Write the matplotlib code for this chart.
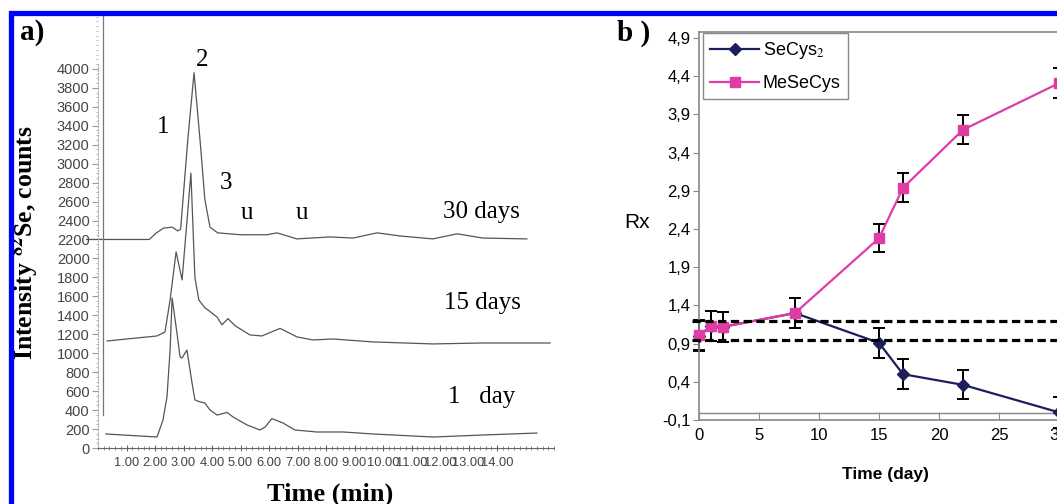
import numpy as np
import matplotlib
matplotlib.use('Agg')
import matplotlib.pyplot as plt
from matplotlib.patches import Rectangle
from matplotlib.ticker import MultipleLocator, FixedLocator

#%% fonts
plt.rcParams['mathtext.fontset'] = 'stix'
serif = ['Liberation Serif', 'DejaVu Serif']
sans = ['Liberation Sans', 'DejaVu Sans']

#%% Data panel a) - chromatograms (time in min, intensity in counts)
t30 = [-0.4, 1.8, 2.05, 2.3, 2.6, 2.8, 2.9, 3.15, 3.37, 3.58, 3.75, 3.93, 4.2,
       5.0, 5.93, 6.28, 6.98, 8.14, 8.95, 9.79, 10.6, 11.75, 12.6, 13.5, 15.05]
i30 = [2200, 2200, 2270, 2320, 2330, 2290, 2310, 3250, 3960, 3250, 2620, 2330, 2270,
       2250, 2250, 2270, 2206, 2227, 2215, 2270, 2237, 2206, 2260, 2215, 2206]

t15 = [0.32, 1.0, 2.07, 2.35, 2.53, 2.74, 2.95, 3.26, 3.40, 3.54, 3.75, 3.93, 4.18,
       4.35, 4.56, 4.81, 5.33, 5.75, 6.39, 6.98, 7.54, 8.25, 9.65, 11.75, 13.5, 15.86]
i15 = [1129, 1150, 1182, 1224, 1562, 2069, 1773, 2900, 1800, 1560, 1480, 1440, 1380,
       1300, 1365, 1290, 1193, 1182, 1262, 1172, 1140, 1150, 1119, 1098, 1108, 1108]

t1 = [0.28, 1.0, 2.07, 2.28, 2.42, 2.53, 2.60, 2.77, 2.88, 2.95, 3.12, 3.30, 3.40,
      3.58, 3.75, 3.93, 4.18, 4.53, 4.74, 5.23, 5.68, 5.86, 6.1, 6.49, 6.91, 7.68,
      8.6, 9.65, 11.75, 13.5, 15.4]
i1 = [148, 135, 116, 296, 538, 1034, 1583, 1214, 960, 950, 1034, 686, 507,
      486, 475, 401, 348, 375, 327, 243, 190, 220, 310, 264, 190, 169,
      169, 148, 116, 137, 158]

a_yticks = list(range(0, 4001, 200))
a_xticks = [1, 2, 3, 4, 5, 6, 7, 8, 9, 10, 11, 12, 13, 14]

#%% Data panel b) - Rx vs time
days = [0, 1, 2, 8, 15, 17, 22, 30]
secys = [1.0, 1.13, 1.12, 1.30, 0.91, 0.50, 0.36, 0.0]
secys_err = [0.2, 0.2, 0.2, 0.2, 0.2, 0.2, 0.19, 0.2]
mesecys = [1.01, 1.13, 1.12, 1.30, 2.28, 2.94, 3.70, 4.31]
mesecys_err = [0.2, 0.2, 0.2, 0.2, 0.18, 0.19, 0.19, 0.2]
ref_levels = [1.2, 0.95]
b_yticks = [-0.1, 0.4, 0.9, 1.4, 1.9, 2.4, 2.9, 3.4, 3.9, 4.4, 4.9]
b_xticks = [0, 5, 10, 15, 20, 25, 30]

#%% figure
W, H = 1057, 504
fig = plt.figure(figsize=(W/100., H/100.), dpi=100)
fig.patch.set_facecolor('white')

# blue frame (top and left edges visible)
fig.patches.append(Rectangle((10.5/W, -0.05), 1.1, (H-12.5)/H + 0.05,
                             transform=fig.transFigure, fill=False,
                             edgecolor='#0000FF', lw=3.8, zorder=10))

#%% panel a)
ax1 = fig.add_axes([98./W, (H-448.)/H, (554.-98.)/W, (448.-12.)/H])
trace_col = '#555555'
for tt, ii in [(t30, i30), (t15, i15), (t1, i1)]:
    ax1.plot(tt, ii, color=trace_col, lw=0.9, clip_on=False)
# vertical line of the original recording
ax1.axvline(0.18, ymin=348/4600., ymax=0.99, color='#777777', lw=0.9)

ax1.set_xlim(0, 16)
ax1.set_ylim(0, 4600)
for s in ['top', 'right']:
    ax1.spines[s].set_visible(False)
ax1.spines['left'].set_bounds(0, 4050)
ax1.spines['left'].set_color('#aaaaaa')
ax1.spines['left'].set_linestyle(':')
ax1.spines['bottom'].set_bounds(0, 16)
ax1.spines['bottom'].set_color('#666666')
ax1.spines['bottom'].set_linewidth(0.8)
ax1.yaxis.set_major_locator(FixedLocator(a_yticks))
ax1.set_yticklabels([str(v) for v in a_yticks], family=sans, fontsize=10.5, color='#444444')
ax1.yaxis.set_minor_locator(MultipleLocator(50))
ax1.xaxis.set_major_locator(FixedLocator(a_xticks))
ax1.set_xticklabels(['%.2f' % v for v in a_xticks], family=sans, fontsize=9.3, color='#444444')
ax1.xaxis.set_minor_locator(MultipleLocator(0.2))
ax1.tick_params(axis='y', which='major', length=4, color='#999999', pad=2)
ax1.tick_params(axis='y', which='minor', length=1.5, color='#aaaaaa')
ax1.tick_params(axis='x', which='major', direction='inout', length=5, color='#666666', pad=4)
ax1.tick_params(axis='x', which='minor', direction='inout', length=3, color='#777777')
ax1.set_facecolor('none')

# peak labels
for txt, xx, yy in [('1', 2.28, 3388), ('2', 3.65, 4095), ('3', 4.49, 2797),
                    ('u', 5.23, 2480), ('u', 7.16, 2480)]:
    ax1.text(xx, yy, txt, family=serif, fontsize=18, ha='center', va='center')
for txt, xx, yy in [('30 days', 13.47, 2490), ('15 days', 13.5, 1530), ('1   day', 13.47, 538)]:
    ax1.text(xx, yy, txt, family=serif, fontsize=18, ha='center', va='center')

fig.text(25./W, 1 - 243./H, r'Intensity $^{\mathbf{82}}$Se, counts', family=serif,
         fontweight='bold', fontsize=18.5, rotation=90, ha='center', va='center')
fig.text(330./W, 1 - 501./H, 'Time (min)', family=serif, fontweight='bold',
         fontsize=19, ha='center', va='baseline')
fig.text(20./W, 1 - 40./H, 'a)', family=serif, fontweight='bold', fontsize=21,
         ha='left', va='baseline')
fig.text(617./W, 1 - 41./H, 'b )', family=serif, fontweight='bold', fontsize=21,
         ha='left', va='baseline')

#%% panel b)
bx0, bx1 = 699., 1065.
by0, by1 = 420., 32.
ax2 = fig.add_axes([bx0/W, (H-by0)/H, (bx1-bx0)/W, (by0-by1)/H])
navy = '#1c1f5c'
pink = '#e03ca6'
# error bars (black) drawn separately from the lines
ax2.errorbar(days, secys, yerr=secys_err, fmt='none', ecolor='black', elinewidth=1.4,
             capsize=4, capthick=1.4, clip_on=False, zorder=2)
ax2.errorbar(days, mesecys, yerr=mesecys_err, fmt='none', ecolor='black', elinewidth=1.4,
             capsize=4, capthick=1.4, clip_on=False, zorder=2)
ax2.plot(days, secys, color=navy, lw=1.6, marker='D', ms=6.5, mfc=navy, mec=navy,
         label='SeCys$_2$', clip_on=False, zorder=3)
ax2.plot(days, mesecys, color=pink, lw=1.6, marker='s', ms=7.5, mfc=pink, mec=pink,
         label='MeSeCys', clip_on=False, zorder=4)
ax2.hlines(ref_levels, -0.6, 30.5, colors='black', lw=2.3,
           linestyles=[(0, (2.6, 1.4))], clip_on=False, zorder=5)
ax2.axhline(-0.01, color='#888888', lw=1.0, zorder=1)

ax2.set_xlim(0, 30.5)
ax2.set_ylim(-0.1, 4.98)
ax2.spines['right'].set_visible(False)
for s in ['left', 'bottom', 'top']:
    ax2.spines[s].set_color('#888888')
    ax2.spines[s].set_linewidth(1.2)
ax2.yaxis.set_major_locator(FixedLocator(b_yticks))
ax2.set_yticklabels([('%.1f' % v).replace('.', ',') for v in b_yticks],
                    family=sans, fontsize=12)
ax2.xaxis.set_major_locator(FixedLocator(b_xticks))
ax2.set_xticklabels([str(v) for v in b_xticks], family=sans, fontsize=12)
ax2.tick_params(axis='y', length=4, color='#888888', pad=2)
ax2.tick_params(axis='x', direction='in', length=6, color='#888888', pad=6)

leg = ax2.legend(loc='upper left', bbox_to_anchor=(0.011, 0.997), borderaxespad=0,
                 prop={'family': sans, 'size': 13}, handlelength=2.7, handletextpad=0.2,
                 labelspacing=0.75, fancybox=False, framealpha=1, borderpad=0.4)
leg.get_frame().set_edgecolor('#888888')
leg.get_frame().set_linewidth(1.0)

fig.text(637./W, 1 - 223./H, 'Rx', family=sans, fontsize=15, ha='center', va='center')
fig.text(885./W, 1 - 475./H, 'Time (day)', family=sans, fontweight='bold',
         fontsize=12.5, ha='center', va='center')

fig.savefig('out.png', dpi=100)
